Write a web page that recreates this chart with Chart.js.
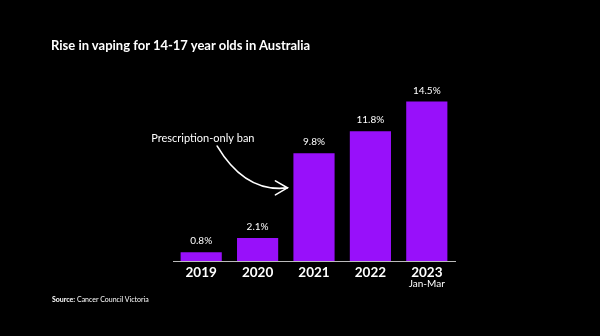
<!DOCTYPE html>
<html>
<head>
<meta charset="utf-8">
<script src="https://cdn.jsdelivr.net/npm/chart.js@4/dist/chart.umd.min.js"></script>
<style>
  html, body { margin: 0; padding: 0; background: #000; }
  #wrap { position: relative; width: 600px; height: 336px; background: #000; }
  #title { position: absolute; left: 51px; top: 37px; color: #fff;
           font: 700 13px 'Lato', sans-serif; }
  #source { position: absolute; left: 52px; top: 295px; color: #fff;
            font: 400 7px 'Lato', sans-serif; }
  #source b { font-weight: 700; }
  canvas { position: absolute; left: 0; top: 0; }
</style>
</head>
<body>
<div id="wrap">
  <canvas id="chart" width="600" height="336"></canvas>
  <div id="title">Rise in vaping for 14-17 year olds in Australia</div>
  <div id="source"><b>Source:</b> Cancer Council Victoria</div>
</div>
<script>
// ── Data ─────────────────────────────────────────────────────────────────────
const YEARS = ['2019', '2020', '2021', '2022', '2023'];
const SUBLABELS = ['', '', '', '', 'Jan-Mar'];
const VAPING = [0.8, 2.1, 9.8, 11.8, 14.5];
const ANNOTATION = 'Prescription-only ban';

const PURPLE = '#9810fa';
const FONT = "'Lato', sans-serif";

// ── Value labels, sub labels and the annotation arrow ───────────────────────
const extras = {
  id: 'extras',
  afterDatasetsDraw(chart) {
    const { ctx, scales: { x, y } } = chart;
    const meta = chart.getDatasetMeta(0);
    ctx.save();
    ctx.fillStyle = '#fff';
    ctx.textAlign = 'center';
    ctx.textBaseline = 'bottom';
    ctx.font = `400 10px ${FONT}`;
    meta.data.forEach((bar, i) => {
      ctx.fillText(VAPING[i].toFixed(1) + '%', bar.x, bar.y - 6);
    });
    ctx.textBaseline = 'middle';
    ctx.font = `400 10px ${FONT}`;
    SUBLABELS.forEach((s, i) => {
      if (s) ctx.fillText(s, x.getPixelForValue(i), y.bottom + 23);
    });

    // annotation text and curved arrow, anchored to the 2021 bar
    const b = meta.data[2];
    const left = b.x - b.width / 2;
    const tipX = left - 6, tipY = y.getPixelForValue(6.65);
    const sx = x.getPixelForValue(0) + 16, sy = y.getPixelForValue(10.45);
    ctx.font = `400 11px ${FONT}`;
    ctx.textAlign = 'left';
    ctx.fillText(ANNOTATION, x.getPixelForValue(0) - 50, y.getPixelForValue(11.15));
    ctx.strokeStyle = '#fff';
    ctx.lineWidth = 1.6;
    ctx.lineCap = 'round';
    ctx.beginPath();
    ctx.moveTo(sx, sy);
    ctx.quadraticCurveTo(sx + 28, tipY + 5, tipX, tipY);
    ctx.stroke();
    ctx.beginPath();
    ctx.moveTo(tipX - 12, tipY - 7);
    ctx.lineTo(tipX, tipY);
    ctx.lineTo(tipX - 12, tipY + 7);
    ctx.stroke();
    ctx.restore();
  }
};

new Chart(document.getElementById('chart'), {
  type: 'bar',
  data: {
    labels: YEARS,
    datasets: [{
      data: VAPING,
      backgroundColor: PURPLE,
      borderWidth: 0,
      categoryPercentage: 1,
      barPercentage: 0.73,
    }],
  },
  options: {
    responsive: false,
    animation: false,
    layout: { padding: { left: 173, right: 145, top: 85, bottom: 45 } },
    plugins: { legend: { display: false }, tooltip: { enabled: false } },
    scales: {
      x: {
        grid: { display: false },
        border: { display: true, color: '#bbb', width: 1 },
        ticks: { color: '#fff', font: { family: FONT, size: 13.5, weight: '700' }, padding: -4 },
        afterFit: s => { s.height = 30; },
      },
      y: { display: false, min: 0, max: 16 },
    },
  },
  plugins: [extras],
});
</script>
</body>
</html>
